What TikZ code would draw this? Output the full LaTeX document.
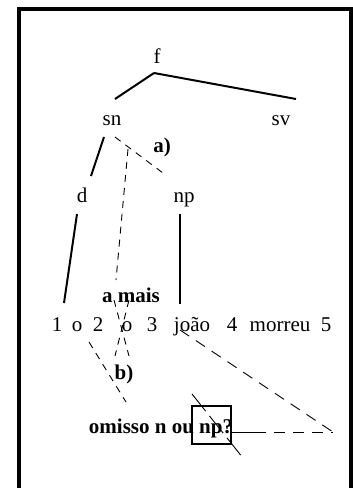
\documentclass[tikz,border=0pt]{standalone}
\usepackage{fontspec}
\setmainfont{Liberation Serif}
\begin{document}
\begin{tikzpicture}[x=1pt,y=-1pt,
  lbl/.style={anchor=base,inner sep=0pt,font=\fontsize{21}{25}\selectfont},
  blbl/.style={lbl,font=\fontsize{21}{25}\selectfont\bfseries},
  edge/.style={line width=2pt},
  dedge/.style={line width=0.9pt,dash pattern=on 7pt off 6pt},
  ldedge/.style={line width=0.9pt,dash pattern=on 11pt off 8pt}]
\useasboundingbox (0,0) rectangle (353,488);
% frame
\draw[line width=4pt] (19,500) -- (19,9) -- (351,9) -- (351,500);
% labels
\node[lbl] (f) at (157,63) {f};
\node[lbl] (sn) at (112,125) {sn};
\node[lbl] (sv) at (281,125) {sv};
\node[blbl] (a) at (162,152) {a)};
\node[lbl] (d) at (82,202) {d};
\node[lbl] (np) at (184,202) {np};
\node[blbl] (amais) at (131,302) {a mais};
\node[lbl] (w1) at (57,331) {1};
\node[lbl] (w2) at (77,331) {o};
\node[lbl] (w3) at (98,331) {2};
\node[lbl] (w4) at (127,331) {o};
\node[lbl] (w5) at (152,331) {3};
\node[lbl] (w6) at (192,331) {joão};
\node[lbl] (w7) at (232,331) {4};
\node[lbl] (w8) at (280,331) {morreu};
\node[lbl] (w9) at (326,331) {5};
\node[blbl] (b) at (124,379) {b)};
\node[blbl] (om) at (161,433) {omisso n ou np?};
% coordinates
\coordinate (fb) at (154,73);
\coordinate (snt) at (115,99);
\coordinate (svt) at (296,99);
\coordinate (snbl) at (104,137);
\coordinate (dt) at (91,176);
\coordinate (snbr) at (115,137);
\coordinate (npt) at (167,176);
\coordinate (ls) at (128,149);
\coordinate (le) at (116,280);
\coordinate (x1a) at (114,300);
\coordinate (x1b) at (129,356);
\coordinate (x2a) at (129,300);
\coordinate (x2b) at (115,356);
\coordinate (db) at (77,214);
\coordinate (onet) at (64,303);
\coordinate (npb) at (180,214);
\coordinate (joaot) at (180,304);
\coordinate (twob) at (89,342);
\coordinate (omt) at (126,402);
\coordinate (joaob) at (180,330);
\coordinate (rc) at (333,432);
\coordinate (hs) at (231,432);
\coordinate (hm) at (255,432);
\coordinate (bx1) at (192,406);
\coordinate (bx2) at (231,444);
\coordinate (dg1) at (192,394);
\coordinate (dg2) at (243,458);
% solid edges
\draw[edge] (fb) -- (snt);
\draw[edge] (fb) -- (svt);
\draw[edge] (snbl) -- (dt);
\draw[edge] (db) -- (onet);
\draw[edge] (npb) -- (joaot);
% dashed
\draw[dedge] (snbr) -- (npt);
\draw[dedge] (ls) -- (le);
\draw[dedge] (x1a) -- (x1b);
\draw[dedge] (x2a) -- (x2b);
\draw[dedge] (twob) -- (omt);
\draw[ldedge] (joaob) -- (rc);
\draw[line width=1pt] (hs) -- (hm);
\draw[ldedge] (hm) -- (rc);
\draw[line width=2pt] (bx1) rectangle (bx2);
\draw[line width=0.9pt,dash pattern=on 22pt off 6pt] (dg1) -- (dg2);
\end{tikzpicture}
\end{document}
